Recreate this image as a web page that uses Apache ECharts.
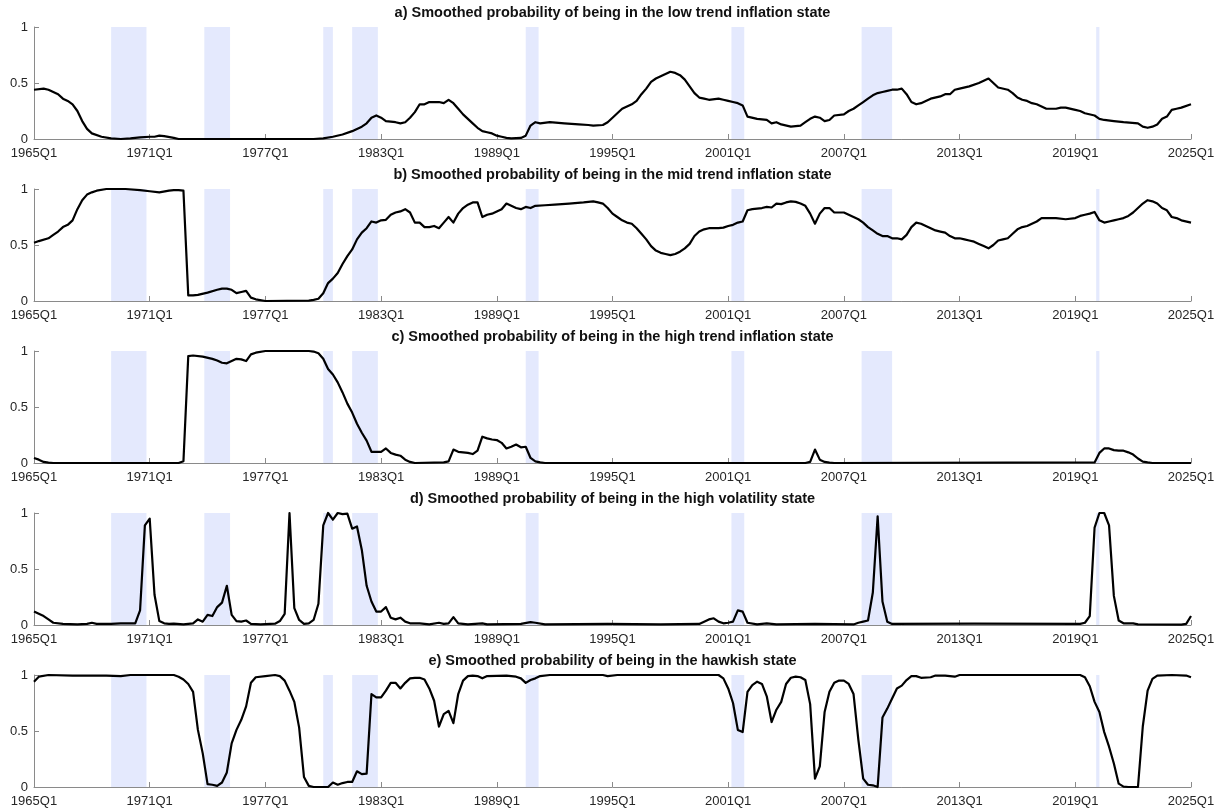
<!DOCTYPE html>
<html>
<head>
<meta charset="utf-8">
<script src="https://cdn.jsdelivr.net/npm/echarts@6/dist/echarts.min.js"></script>
<style>
html,body{margin:0;padding:0;background:#fff;}
#chart{width:1225px;height:812px;}
</style>
</head>
<body>
<div id="chart"></div>
<script>
// x = quarters since 1965Q1 (0 = 1965Q1, 240 = 2025Q1)
const quarterTickLabels = ['1965Q1','1971Q1','1977Q1','1983Q1','1989Q1','1995Q1','2001Q1','2007Q1','2013Q1','2019Q1','2025Q1'];
const yTickLabels = ['0','0.5','1'];

const panelTitles = [
  'a) Smoothed probability of being in the low trend inflation state',
  'b) Smoothed probability of being in the mid trend inflation state',
  'c) Smoothed probability of being in the high trend inflation state',
  'd) Smoothed probability of being in the high volatility state',
  'e) Smoothed probability of being in the hawkish state'
];

// recession shading (quarters since 1965Q1)
const recessionStart = [16, 35.33, 60, 66, 102, 144.67, 171.67, 220.33];
const recessionEnd   = [23.33, 40.67, 62, 71.33, 104.67, 147.33, 178, 221];

const lowTrend = [[0,0.44],[2,0.45],[3,0.44],[5,0.40],[6,0.36],[7,0.34],[8,0.31],[9,0.25],[10,0.16],[11,0.09],[12,0.05],[14,0.02],[16,0.005],[18,0],[20,0.005],[22,0.015],[24,0.02],[25,0.02],[26,0.03],[27,0.025],[29,0.01],[30,0],[58,0],[60,0.005],[62,0.02],[64,0.04],[66,0.07],[68,0.11],[69,0.14],[70,0.19],[71,0.21],[72,0.19],[73,0.16],[75,0.15],[76,0.14],[77,0.15],[78,0.19],[79,0.24],[80,0.31],[81,0.31],[82,0.33],[84,0.33],[85,0.32],[86,0.35],[87,0.32],[88,0.27],[89,0.22],[90,0.18],[91,0.14],[92,0.10],[93,0.07],[94,0.06],[95,0.05],[96,0.03],[97,0.02],[98,0.01],[99,0.005],[101,0.01],[102,0.03],[103,0.12],[104,0.15],[105,0.14],[107,0.15],[110,0.14],[113,0.13],[115,0.125],[116,0.12],[118,0.125],[119,0.15],[120,0.19],[121,0.23],[122,0.27],[123,0.29],[124,0.31],[125,0.34],[126,0.40],[127,0.45],[128,0.51],[129,0.54],[130,0.56],[131,0.58],[132,0.60],[133,0.59],[134,0.57],[135,0.53],[136,0.47],[137,0.41],[138,0.37],[139,0.36],[140,0.35],[142,0.36],[143,0.35],[144,0.34],[145,0.33],[146,0.32],[147,0.30],[148,0.20],[150,0.18],[152,0.17],[153,0.14],[154,0.15],[155,0.13],[157,0.11],[159,0.12],[160,0.15],[161,0.18],[162,0.20],[163,0.19],[164,0.16],[165,0.17],[166,0.21],[168,0.22],[169,0.25],[170,0.27],[171,0.30],[172,0.33],[173,0.36],[174,0.39],[175,0.41],[176,0.42],[177,0.43],[178,0.44],[179,0.44],[180,0.45],[181,0.40],[182,0.33],[183,0.31],[184,0.32],[185,0.34],[186,0.36],[188,0.38],[189,0.40],[190,0.40],[191,0.44],[192,0.45],[194,0.47],[196,0.50],[197,0.52],[198,0.54],[199,0.50],[200,0.46],[202,0.44],[203,0.41],[204,0.37],[205,0.35],[206,0.34],[207,0.32],[208,0.31],[209,0.29],[210,0.27],[212,0.27],[213,0.28],[214,0.28],[216,0.26],[217,0.25],[218,0.23],[220,0.21],[221,0.18],[222,0.17],[224,0.16],[226,0.15],[229,0.14],[230,0.11],[231,0.10],[232,0.11],[233,0.13],[234,0.18],[235,0.20],[236,0.26],[237,0.27],[238,0.28],[240,0.31]];

const midTrend = [[0,0.52],[1,0.535],[3,0.56],[4,0.59],[5,0.62],[6,0.66],[7,0.68],[8,0.72],[9,0.82],[10,0.90],[11,0.95],[12,0.97],[13,0.985],[15,1.0],[19,1.0],[22,0.99],[24,0.98],[26,0.97],[28,0.985],[29,0.99],[30,0.99],[31,0.985],[32,0.05],[33,0.05],[34,0.055],[36,0.075],[38,0.10],[39,0.11],[40,0.11],[41,0.10],[42,0.07],[43,0.08],[44,0.09],[45,0.03],[46,0.015],[48,0],[57,0.003],[58,0.01],[59,0.02],[60,0.07],[61,0.16],[62,0.20],[63,0.25],[64,0.33],[65,0.40],[66,0.46],[67,0.55],[68,0.61],[69,0.65],[70,0.71],[71,0.70],[72,0.72],[73,0.725],[74,0.77],[75,0.79],[76,0.80],[77,0.82],[78,0.79],[79,0.70],[80,0.70],[81,0.66],[82,0.66],[83,0.67],[84,0.65],[85,0.70],[86,0.75],[87,0.70],[88,0.78],[89,0.83],[90,0.86],[91,0.88],[92,0.88],[93,0.75],[94,0.77],[95,0.78],[96,0.80],[97,0.82],[98,0.87],[99,0.85],[100,0.83],[101,0.82],[102,0.84],[103,0.83],[104,0.85],[106,0.855],[108,0.86],[111,0.87],[114,0.88],[116,0.89],[117,0.88],[118,0.87],[119,0.83],[120,0.78],[121,0.75],[122,0.72],[123,0.70],[124,0.69],[125,0.65],[126,0.60],[127,0.55],[128,0.49],[129,0.45],[130,0.43],[131,0.42],[132,0.41],[133,0.42],[134,0.44],[135,0.47],[136,0.51],[137,0.58],[138,0.62],[139,0.64],[140,0.65],[142,0.65],[143,0.655],[144,0.67],[145,0.68],[146,0.70],[147,0.71],[148,0.81],[149,0.82],[150,0.825],[151,0.83],[152,0.84],[153,0.835],[154,0.87],[155,0.865],[156,0.88],[157,0.89],[158,0.885],[159,0.87],[160,0.85],[161,0.78],[162,0.69],[163,0.78],[164,0.83],[165,0.83],[166,0.79],[167,0.79],[168,0.79],[169,0.77],[170,0.75],[171,0.73],[172,0.70],[173,0.66],[174,0.63],[175,0.60],[176,0.58],[177,0.58],[178,0.56],[179,0.56],[180,0.55],[181,0.59],[182,0.66],[183,0.70],[184,0.69],[185,0.67],[186,0.65],[187,0.63],[188,0.62],[189,0.61],[190,0.58],[191,0.56],[192,0.56],[193,0.55],[194,0.54],[195,0.53],[196,0.51],[197,0.49],[198,0.47],[199,0.50],[200,0.54],[201,0.55],[202,0.56],[203,0.60],[204,0.64],[205,0.66],[206,0.67],[207,0.69],[208,0.71],[209,0.74],[210,0.74],[212,0.74],[214,0.73],[216,0.74],[217,0.76],[218,0.77],[219,0.78],[220,0.795],[221,0.72],[222,0.70],[223,0.71],[224,0.72],[225,0.73],[226,0.74],[227,0.76],[228,0.79],[229,0.83],[230,0.87],[231,0.90],[232,0.89],[233,0.87],[234,0.83],[235,0.81],[236,0.75],[237,0.74],[238,0.72],[240,0.70]];

const highTrend = [[0,0.045],[1,0.03],[2,0.01],[3,0.003],[4,0],[30,0],[31,0.015],[32,0.955],[33,0.96],[35,0.95],[37,0.93],[38,0.915],[39,0.895],[40,0.89],[41,0.91],[42,0.93],[43,0.925],[44,0.91],[45,0.97],[46,0.985],[48,1.0],[57,1.0],[58,0.995],[59,0.98],[60,0.93],[61,0.84],[62,0.79],[63,0.72],[64,0.63],[65,0.53],[66,0.45],[67,0.35],[68,0.27],[69,0.20],[70,0.10],[71,0.10],[72,0.10],[73,0.13],[74,0.09],[75,0.075],[76,0.065],[77,0.03],[78,0.01],[79,0],[85,0.005],[86,0.015],[87,0.12],[88,0.10],[89,0.095],[90,0.09],[91,0.08],[92,0.11],[93,0.235],[94,0.22],[95,0.21],[96,0.205],[97,0.18],[98,0.13],[99,0.145],[100,0.165],[101,0.14],[102,0.145],[103,0.045],[104,0.015],[105,0.005],[106,0],[160,0],[161,0.01],[162,0.12],[163,0.03],[164,0.01],[165,0.003],[166,0],[220,0.005],[221,0.09],[222,0.13],[223,0.13],[224,0.115],[225,0.11],[226,0.11],[227,0.095],[228,0.075],[229,0.04],[230,0.012],[231,0.005],[232,0],[240,0]];

const highVol = [[0,0.12],[1,0.10],[2,0.08],[3,0.05],[4,0.02],[6,0.01],[9,0.005],[11,0.01],[12,0.02],[13,0.01],[16,0.01],[18,0.015],[21,0.015],[22,0.13],[23,0.89],[24,0.95],[25,0.27],[26,0.035],[27,0.015],[28,0.01],[29,0.012],[31,0.005],[33,0.015],[34,0.05],[35,0.03],[36,0.09],[37,0.08],[38,0.16],[39,0.20],[40,0.35],[41,0.09],[42,0.035],[43,0.03],[44,0.04],[45,0.01],[47,0.005],[50,0.012],[51,0.035],[52,0.10],[53,1.0],[54,0.15],[55,0.045],[56,0.01],[57,0.015],[58,0.045],[59,0.19],[60,0.89],[61,1.0],[62,0.94],[63,1.0],[64,0.99],[65,0.995],[66,0.86],[67,0.88],[68,0.67],[69,0.35],[70,0.21],[71,0.12],[72,0.12],[73,0.16],[74,0.065],[75,0.05],[76,0.065],[77,0.03],[78,0.015],[80,0.015],[82,0.005],[84,0.02],[85,0.01],[86,0.015],[87,0.07],[88,0.015],[90,0.005],[93,0.015],[94,0.005],[101,0.01],[103,0.025],[104,0.02],[106,0.005],[119,0.01],[130,0.005],[138,0.01],[139,0.03],[140,0.05],[141,0.06],[142,0.03],[143,0.015],[144,0.02],[145,0.03],[146,0.13],[147,0.12],[148,0.02],[150,0.005],[152,0.015],[154,0.005],[162,0.01],[170,0.005],[171,0.02],[172,0.03],[173,0.04],[174,0.29],[175,0.97],[176,0.21],[177,0.03],[178,0.01],[195,0.012],[217,0.01],[218,0.02],[219,0.08],[220,0.87],[221,1.0],[222,1.0],[223,0.89],[224,0.26],[225,0.04],[226,0.015],[228,0.015],[229,0.005],[238,0.003],[239,0.01],[240,0.08]];

const hawkish = [[0,0.94],[1,0.985],[3,1.0],[8,0.995],[15,0.995],[18,0.99],[20,1.0],[29,1.0],[30,0.985],[31,0.96],[32,0.92],[33,0.85],[34,0.51],[35,0.30],[36,0.025],[37,0.02],[38,0.01],[39,0.04],[40,0.13],[41,0.39],[42,0.51],[43,0.60],[44,0.72],[45,0.93],[46,0.98],[48,0.99],[50,1.0],[51,0.99],[52,0.95],[53,0.86],[54,0.76],[55,0.53],[56,0.09],[57,0.01],[58,0],[61,0],[62,0.04],[63,0.02],[64,0.035],[65,0.045],[66,0.045],[67,0.14],[68,0.115],[69,0.12],[70,0.83],[71,0.80],[72,0.80],[73,0.86],[74,0.93],[75,0.93],[76,0.88],[77,0.93],[78,0.97],[79,0.975],[80,0.975],[81,0.96],[82,0.88],[83,0.77],[84,0.54],[85,0.65],[86,0.68],[87,0.57],[88,0.83],[89,0.95],[90,0.99],[91,0.995],[92,0.99],[93,0.97],[94,0.99],[98,0.995],[100,0.985],[101,0.97],[102,0.93],[103,0.955],[104,0.97],[105,0.99],[107,1.0],[118,1.0],[119,0.99],[121,1.0],[142,1.0],[143,0.97],[144,0.88],[145,0.75],[146,0.51],[147,0.49],[148,0.85],[149,0.91],[150,0.94],[151,0.92],[152,0.81],[153,0.58],[154,0.69],[155,0.76],[156,0.92],[157,0.975],[158,0.985],[159,0.98],[160,0.955],[161,0.74],[162,0.075],[163,0.185],[164,0.67],[165,0.85],[166,0.93],[167,0.95],[168,0.95],[169,0.92],[170,0.83],[171,0.42],[172,0.075],[173,0.02],[174,0.015],[175,0],[176,0.62],[177,0.70],[178,0.79],[179,0.88],[180,0.905],[181,0.955],[182,0.99],[183,0.99],[184,0.975],[186,0.98],[187,0.995],[189,0.995],[191,0.985],[192,1.0],[217,1.0],[218,0.98],[219,0.90],[220,0.76],[221,0.67],[222,0.49],[223,0.36],[224,0.21],[225,0.03],[226,0.003],[227,0],[229,0],[230,0.54],[231,0.86],[232,0.965],[233,0.995],[236,1.0],[239,0.995],[240,0.98]];

const panelSeries = [lowTrend, midTrend, highTrend, highVol, hawkish];

const FONT = "'Liberation Sans', Arial, Helvetica, sans-serif";
const AXIS_COLOR = '#8a8a8a';
const LABEL_COLOR = '#262626';
const BAND_COLOR = 'rgb(228,233,253)';

const grids = [], xAxes = [], yAxes = [], series = [], titles = [];
const bands = recessionStart.map((s, j) => [{ xAxis: s }, { xAxis: recessionEnd[j] }]);

panelSeries.forEach((data, k) => {
  const top = 27 + 162 * k;
  grids.push({ left: 34, right: 34, top: top, height: 112 });
  titles.push({
    text: panelTitles[k], left: 'center', top: top - 27,
    textStyle: { fontFamily: FONT, fontSize: 14.5, fontWeight: 'bold', color: '#111' }
  });
  xAxes.push({
    type: 'value', gridIndex: k, min: 0, max: 240, interval: 24,
    axisLine: { show: true, onZero: false, lineStyle: { color: AXIS_COLOR, width: 1 } },
    axisTick: { show: true, inside: true, length: 5, lineStyle: { color: AXIS_COLOR } },
    splitLine: { show: false },
    axisLabel: {
      margin: 8, color: LABEL_COLOR, fontFamily: FONT, fontSize: 13,
      formatter: v => quarterTickLabels[Math.round(v / 24)]
    }
  });
  yAxes.push({
    type: 'value', gridIndex: k, min: 0, max: 1, interval: 0.5,
    axisLine: { show: true, lineStyle: { color: AXIS_COLOR, width: 1 } },
    axisTick: { show: true, inside: true, length: 5, lineStyle: { color: AXIS_COLOR } },
    splitLine: { show: false },
    axisLabel: {
      margin: 6, color: LABEL_COLOR, fontFamily: FONT, fontSize: 13,
      formatter: v => yTickLabels[Math.round(v * 2)]
    }
  });
  series.push({
    type: 'line', xAxisIndex: k, yAxisIndex: k, data: data,
    showSymbol: false, clip: false, z: 3,
    lineStyle: { color: '#000', width: 2.2, join: 'round' },
    markArea: {
      silent: true, z: 1,
      itemStyle: { color: BAND_COLOR },
      data: bands
    }
  });
});

const chart = echarts.init(document.getElementById('chart'), null, { renderer: 'canvas' });
chart.setOption({
  animation: false,
  backgroundColor: '#fff',
  title: titles,
  grid: grids,
  xAxis: xAxes,
  yAxis: yAxes,
  series: series
});
</script>
</body>
</html>
